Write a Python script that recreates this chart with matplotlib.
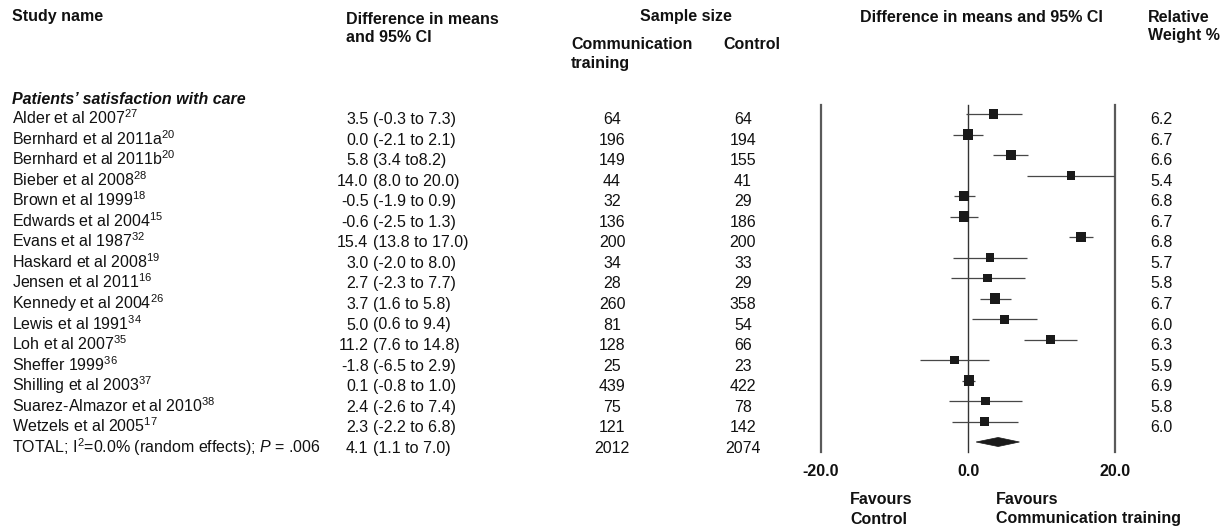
import matplotlib
matplotlib.use("Agg")
import matplotlib.pyplot as plt
from matplotlib.patches import Polygon

plt.rcParams["font.family"] = ["Liberation Sans", "DejaVu Sans"]
plt.rcParams["mathtext.fontset"] = "custom"
plt.rcParams["mathtext.rm"] = "Liberation Sans"
plt.rcParams["mathtext.it"] = "Liberation Sans:italic"
plt.rcParams["mathtext.bf"] = "Liberation Sans:bold"
plt.rcParams["mathtext.default"] = "regular"

# ---- data ----
studies = ["Alder et al 2007", "Bernhard et al 2011a", "Bernhard et al 2011b",
           "Bieber et al 2008", "Brown et al 1999", "Edwards et al 2004",
           "Evans et al 1987", "Haskard et al 2008", "Jensen et al 2011",
           "Kennedy et al 2004", "Lewis et al 1991", "Loh et al 2007",
           "Sheffer 1999", "Shilling et al 2003", "Suarez-Almazor et al 2010",
           "Wetzels et al 2005"]
refs = [27, 20, 20, 28, 18, 15, 32, 19, 16, 26, 34, 35, 36, 37, 38, 17]
diff = [3.5, 0.0, 5.8, 14.0, -0.5, -0.6, 15.4, 3.0, 2.7, 3.7, 5.0, 11.2, -1.8, 0.1, 2.4, 2.3]
ci_lo = [-0.3, -2.1, 3.4, 8.0, -1.9, -2.5, 13.8, -2.0, -2.3, 1.6, 0.6, 7.6, -6.5, -0.8, -2.6, -2.2]
ci_hi = [7.3, 2.1, 8.2, 20.0, 0.9, 1.3, 17.0, 8.0, 7.7, 5.8, 9.4, 14.8, 2.9, 1.0, 7.4, 6.8]
n_comm = [64, 196, 149, 44, 32, 136, 200, 34, 28, 260, 81, 128, 25, 439, 75, 121]
n_ctrl = [64, 194, 155, 41, 29, 186, 200, 33, 29, 358, 54, 66, 23, 422, 78, 142]
weights = [6.2, 6.7, 6.6, 5.4, 6.8, 6.7, 6.8, 5.7, 5.8, 6.7, 6.0, 6.3, 5.9, 6.9, 5.8, 6.0]
to_word = ["to"] * len(studies)
to_word[2] = "to"  # printed without a following space in the source table
no_space_after_to = {2}

total_label = r"TOTAL; I$^{2}$=0.0% (random effects); $\mathit{P}$ = .006"
total_diff, total_lo, total_hi = 4.1, 1.1, 7.0
total_comm, total_ctrl = 2012, 2074

x_ticks = [-20, 0, 20]
x_tick_labels = ["-20.0", "0.0", "20.0"]

# ---- figure ----
W, H = 1229, 529
fig = plt.figure(figsize=(W / 100, H / 100), dpi=100)
fig.patch.set_facecolor("white")

tab = fig.add_axes([0, 0, 1, 1])
tab.set_xlim(0, W)
tab.set_ylim(H, 0)
tab.axis("off")

FS = 11.5
ink = "#111111"

# column headers
tab.text(12, 21.5, "Study name", fontsize=FS, fontweight="bold", color=ink)
tab.text(346, 24, "Difference in means", fontsize=FS, fontweight="bold", color=ink)
tab.text(346, 42.5, "and 95% CI", fontsize=FS, fontweight="bold", color=ink)
tab.text(686, 20.5, "Sample size", fontsize=FS, fontweight="bold", color=ink, ha="center")
tab.text(571, 49, "Communication", fontsize=FS, fontweight="bold", color=ink)
tab.text(571, 68, "training", fontsize=FS, fontweight="bold", color=ink)
tab.text(723, 49, "Control", fontsize=FS, fontweight="bold", color=ink)
tab.text(981, 21.5, "Difference in means and 95% CI", fontsize=FS, fontweight="bold",
         color=ink, ha="center")
tab.text(1148, 21.5, "Relative", fontsize=FS, fontweight="bold", color=ink)
tab.text(1148, 40, "Weight %", fontsize=FS, fontweight="bold", color=ink)

tab.text(12, 104, "Patients\u2019 satisfaction with care", fontsize=FS,
         fontweight="bold", fontstyle="italic", color=ink)

ROW0, PITCH = 124.0, 20.55
EST_RIGHT = 368.5


def row_text(i, name, est, lo, hi, nc, nk, wt=None, sep=" to "):
    y = ROW0 + PITCH * i
    tab.text(12, y, name, fontsize=FS, color=ink, va="baseline")
    tab.text(EST_RIGHT, y, f"{est:.1f}", fontsize=FS, color=ink, va="baseline", ha="right")
    tab.text(EST_RIGHT + 4.4, y, f"({lo:.1f}{sep}{hi:.1f})", fontsize=FS, color=ink,
             va="baseline")
    tab.text(612, y, f"{nc}", fontsize=FS, color=ink, va="baseline", ha="center")
    tab.text(743, y, f"{nk}", fontsize=FS, color=ink, va="baseline", ha="center")
    if wt is not None:
        tab.text(1150, y, f"{wt:.1f}", fontsize=FS, color=ink, va="baseline")


for i, name in enumerate(studies):
    sep = " to" if i in no_space_after_to else " to "
    row_text(i, f"{name}$^{{{refs[i]}}}$", diff[i], ci_lo[i], ci_hi[i],
             n_comm[i], n_ctrl[i], weights[i], sep=sep)
row_text(len(studies), total_label, total_diff, total_lo, total_hi, total_comm, total_ctrl)

# ---- forest plot ----
top_px, bot_px, left_px, right_px = 105, 452, 821, 1115
ax = fig.add_axes([left_px / W, 1 - bot_px / H, (right_px - left_px) / W, (bot_px - top_px) / H])
ax.set_xlim(-20, 20)
row_top = (top_px - 114) / 20.5
row_bot = (bot_px - 114) / 20.5
ax.set_ylim(row_bot, row_top)
for s in ax.spines.values():
    s.set_visible(False)
ax.set_yticks([])
ax.set_xticks(x_ticks, labels=x_tick_labels)
ax.tick_params(axis="x", length=0, pad=9, labelsize=FS, colors=ink)
for lab in ax.get_xticklabels():
    lab.set_fontweight("bold")
ax.patch.set_alpha(0)

ax.axvline(-20, color="#5a5a5a", lw=1.6, clip_on=False)
ax.axvline(20, color="#5a5a5a", lw=1.6, clip_on=False)
ax.axvline(0, color="#333333", lw=1.0, clip_on=False)

rows = list(range(len(studies)))
ax.hlines(rows, ci_lo, ci_hi, color="#474747", lw=0.9, zorder=2)
sizes = [(1.5 * w * 0.72) ** 2 for w in weights]
ax.scatter(diff, rows, s=sizes, marker="s", color="#1a1a1a", linewidths=0, zorder=3)

yt = len(studies)
half_h = 0.22
ax.add_patch(Polygon([(total_lo, yt), (total_diff, yt - half_h), (total_hi, yt),
                      (total_diff, yt + half_h)], closed=True, facecolor="#1a1a1a",
                     edgecolor="#1a1a1a", lw=0.5, zorder=3))

# favour labels
tab.text(850, 504, "Favours", fontsize=FS, fontweight="bold", color=ink)
tab.text(850, 523.5, "Control", fontsize=FS, fontweight="bold", color=ink)
tab.text(996, 504, "Favours", fontsize=FS, fontweight="bold", color=ink)
tab.text(996, 523.5, "Communication training", fontsize=FS, fontweight="bold", color=ink)

fig.savefig("out.png", dpi=100, facecolor="white")
